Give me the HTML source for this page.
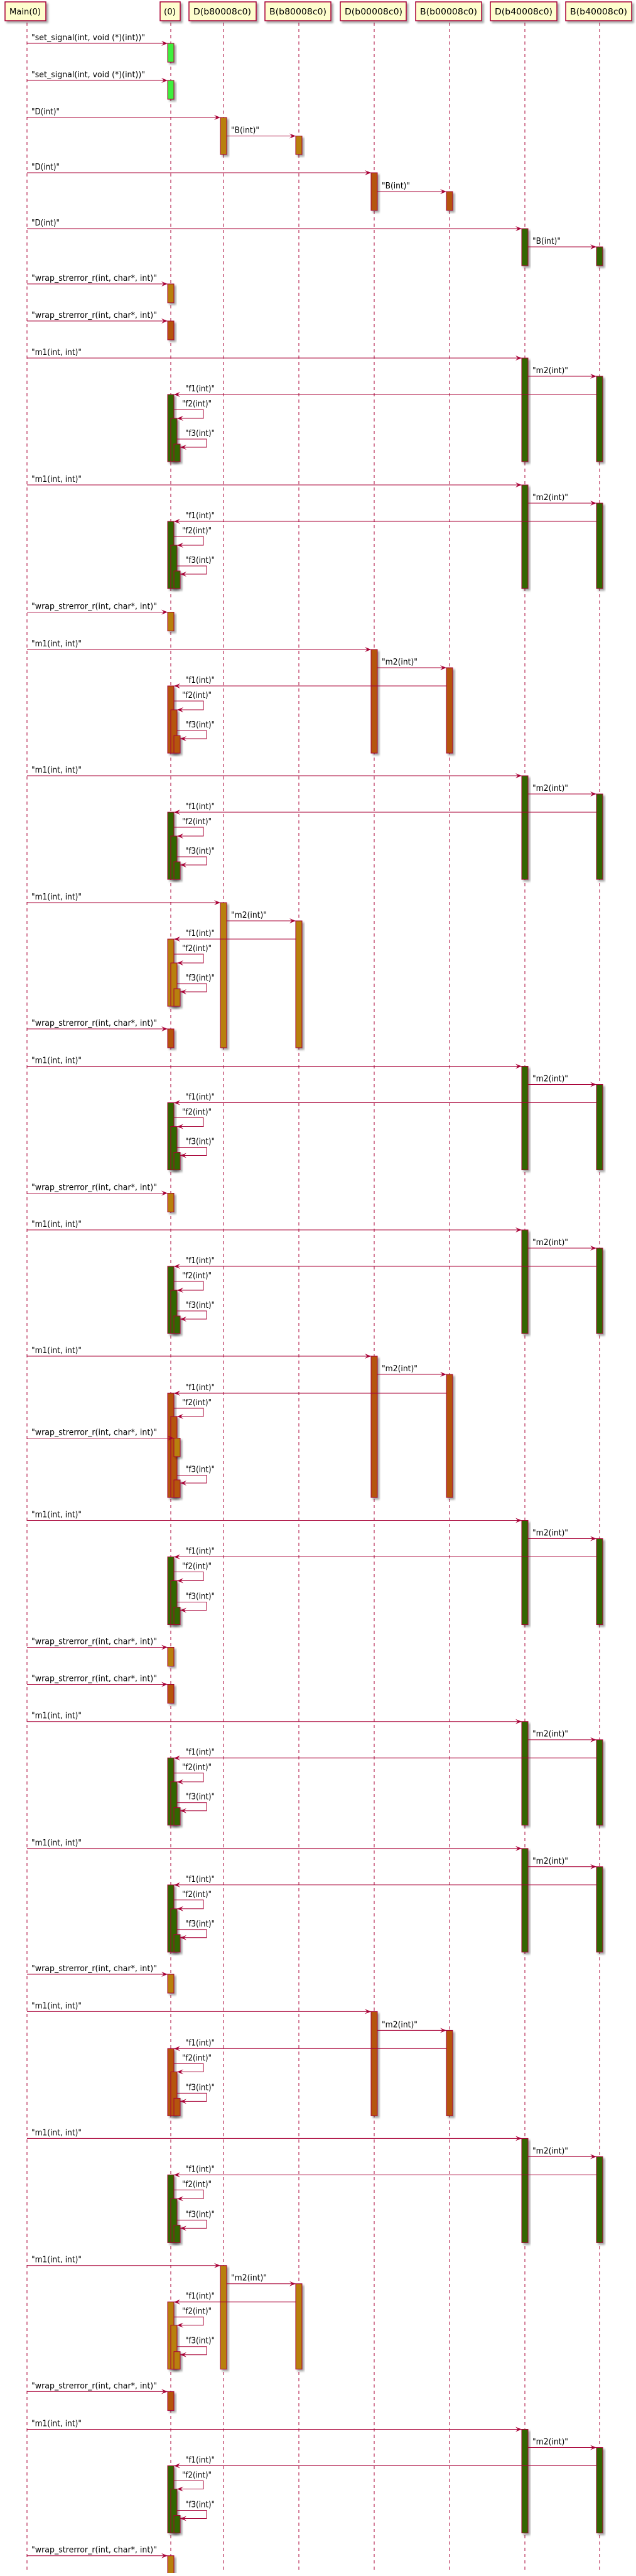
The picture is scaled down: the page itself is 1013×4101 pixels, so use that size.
<!DOCTYPE html>
<html><head><meta charset="utf-8"><style>
html,body{margin:0;padding:0;background:#fff}
svg text{font-family:"DejaVu Sans","Liberation Sans",sans-serif;font-size:13px;fill:#000}
.l{fill:none;stroke:#A80036;stroke-width:1}
.h{fill:#A80036}
.ll{stroke:#A80036;stroke-width:1;stroke-dasharray:5,5}
.box{fill:#FEFECE;stroke:#A80036;stroke-width:1.5;filter:url(#s)}
rect.g,rect.o,rect.r,rect.n{stroke:#A80036;stroke-width:1;filter:url(#s)}
.g{fill:#336600}.o{fill:#B8800A}.r{fill:#B5540B}.n{fill:#3CF03C}
</style></head><body>
<svg width="1013" height="4096" viewBox="0 0 1013 4096" xmlns="http://www.w3.org/2000/svg">
<defs><filter id="s" x="-50%" y="-10%" width="200%" height="130%"><feDropShadow dx="3" dy="3" stdDeviation="1.5" flood-color="#000" flood-opacity="0.35"/></filter></defs>
<line class="ll" x1="43" y1="36" x2="43" y2="4096"/>
<line class="ll" x1="272" y1="36" x2="272" y2="4096"/>
<line class="ll" x1="356" y1="36" x2="356" y2="4096"/>
<line class="ll" x1="476" y1="36" x2="476" y2="4096"/>
<line class="ll" x1="596" y1="36" x2="596" y2="4096"/>
<line class="ll" x1="716" y1="36" x2="716" y2="4096"/>
<line class="ll" x1="836" y1="36" x2="836" y2="4096"/>
<line class="ll" x1="955" y1="36" x2="955" y2="4096"/>
<rect class="box" x="8" y="3" width="65" height="30"/><text x="15" y="23" textLength="50" lengthAdjust="spacingAndGlyphs">Main(0)</text>
<rect class="box" x="255" y="3" width="32" height="30"/><text x="261" y="23" textLength="19" lengthAdjust="spacingAndGlyphs">(0)</text>
<rect class="box" x="301" y="3" width="107" height="30"/><text x="308" y="23" textLength="92" lengthAdjust="spacingAndGlyphs">D(b80008c0)</text>
<rect class="box" x="422" y="3" width="105" height="30"/><text x="429" y="23" textLength="91" lengthAdjust="spacingAndGlyphs">B(b80008c0)</text>
<rect class="box" x="542" y="3" width="105" height="30"/><text x="549" y="23" textLength="92" lengthAdjust="spacingAndGlyphs">D(b00008c0)</text>
<rect class="box" x="662" y="3" width="105" height="30"/><text x="669" y="23" textLength="91" lengthAdjust="spacingAndGlyphs">B(b00008c0)</text>
<rect class="box" x="781" y="3" width="106" height="30"/><text x="788" y="23" textLength="92" lengthAdjust="spacingAndGlyphs">D(b40008c0)</text>
<rect class="box" x="901" y="3" width="105" height="30"/><text x="908" y="23" textLength="91" lengthAdjust="spacingAndGlyphs">B(b40008c0)</text>

<g transform="translate(0,69)"><path class="l" d="M43 0H267"/><polygon class="h" points="267,0 257,-4 261,0 257,4"/><text x="50" y="-5" textLength="181" lengthAdjust="spacingAndGlyphs">"set_signal(int, void (*)(int))"</text><rect class="n" x="267" y="0" width="10" height="30"/></g>
<g transform="translate(0,128)"><path class="l" d="M43 0H267"/><polygon class="h" points="267,0 257,-4 261,0 257,4"/><text x="50" y="-5" textLength="181" lengthAdjust="spacingAndGlyphs">"set_signal(int, void (*)(int))"</text><rect class="n" x="267" y="0" width="10" height="30"/></g>

<g transform="translate(0,187)"><path class="l" d="M43 0H351"/><polygon class="h" points="351,0 341,-4 345,0 341,4"/><text x="50" y="-5" textLength="45" lengthAdjust="spacingAndGlyphs">"D(int)"</text><rect class="o" x="351" y="0" width="10" height="59"/><path class="l" d="M361 29.5H471"/><polygon class="h" points="471,29.5 461,25.5 465,29.5 461,33.5"/><text x="368" y="24.5" textLength="45" lengthAdjust="spacingAndGlyphs">"B(int)"</text><rect class="o" x="471" y="29.5" width="10" height="29.5"/></g>
<g transform="translate(0,275)"><path class="l" d="M43 0H591"/><polygon class="h" points="591,0 581,-4 585,0 581,4"/><text x="50" y="-5" textLength="45" lengthAdjust="spacingAndGlyphs">"D(int)"</text><rect class="r" x="591" y="0" width="10" height="60"/><path class="l" d="M601 30H711"/><polygon class="h" points="711,30 701,26 705,30 701,34"/><text x="608" y="25" textLength="45" lengthAdjust="spacingAndGlyphs">"B(int)"</text><rect class="r" x="711" y="30" width="10" height="30"/></g>
<g transform="translate(0,364)"><path class="l" d="M43 0H831"/><polygon class="h" points="831,0 821,-4 825,0 821,4"/><text x="50" y="-5" textLength="45" lengthAdjust="spacingAndGlyphs">"D(int)"</text><rect class="g" x="831" y="0" width="10" height="59"/><path class="l" d="M841 29H950"/><polygon class="h" points="950,29 940,25 944,29 940,33"/><text x="848" y="24" textLength="45" lengthAdjust="spacingAndGlyphs">"B(int)"</text><rect class="g" x="950" y="29" width="10" height="30"/></g>

<g transform="translate(0,452)"><path class="l" d="M43 0H267"/><polygon class="h" points="267,0 257,-4 261,0 257,4"/><text x="50" y="-5" textLength="200" lengthAdjust="spacingAndGlyphs">"wrap_strerror_r(int, char*, int)"</text><rect class="o" x="267" y="0" width="10" height="30"/></g>
<g transform="translate(0,511)"><path class="l" d="M43 0H267"/><polygon class="h" points="267,0 257,-4 261,0 257,4"/><text x="50" y="-5" textLength="200" lengthAdjust="spacingAndGlyphs">"wrap_strerror_r(int, char*, int)"</text><rect class="r" x="267" y="0" width="10" height="30"/></g>

<g transform="translate(0,570)"><path class="l" d="M43 0H831"/><polygon class="h" points="831,0 821,-4 825,0 821,4"/><text x="50" y="-5" textLength="80" lengthAdjust="spacingAndGlyphs">"m1(int, int)"</text><rect class="g" x="831" y="0" width="10" height="165"/><path class="l" d="M841 29H950"/><polygon class="h" points="950,29 940,25 944,29 940,33"/><text x="848" y="24" textLength="57" lengthAdjust="spacingAndGlyphs">"m2(int)"</text><rect class="g" x="950" y="29" width="10" height="136"/><path class="l" d="M950 58H277"/><polygon class="h" points="277,58 287,54 283,58 287,62"/><text x="295" y="53" textLength="47" lengthAdjust="spacingAndGlyphs">"f1(int)"</text><rect class="g" x="267" y="58" width="10" height="107"/><rect class="g" x="272" y="96" width="10" height="69"/><path class="l" d="M277 82H324V96H282"/><polygon class="h" points="282,96 292,92 288,96 292,100"/><text x="290" y="77" textLength="47" lengthAdjust="spacingAndGlyphs">"f2(int)"</text><rect class="g" x="277" y="137" width="10" height="28"/><path class="l" d="M282 129H329V142H287"/><polygon class="h" points="287,142 297,138 293,142 297,146"/><text x="295" y="124" textLength="47" lengthAdjust="spacingAndGlyphs">"f3(int)"</text></g>

<g transform="translate(0,772)"><path class="l" d="M43 0H831"/><polygon class="h" points="831,0 821,-4 825,0 821,4"/><text x="50" y="-5" textLength="80" lengthAdjust="spacingAndGlyphs">"m1(int, int)"</text><rect class="g" x="831" y="0" width="10" height="165"/><path class="l" d="M841 29H950"/><polygon class="h" points="950,29 940,25 944,29 940,33"/><text x="848" y="24" textLength="57" lengthAdjust="spacingAndGlyphs">"m2(int)"</text><rect class="g" x="950" y="29" width="10" height="136"/><path class="l" d="M950 58H277"/><polygon class="h" points="277,58 287,54 283,58 287,62"/><text x="295" y="53" textLength="47" lengthAdjust="spacingAndGlyphs">"f1(int)"</text><rect class="g" x="267" y="58" width="10" height="107"/><rect class="g" x="272" y="96" width="10" height="69"/><path class="l" d="M277 82H324V96H282"/><polygon class="h" points="282,96 292,92 288,96 292,100"/><text x="290" y="77" textLength="47" lengthAdjust="spacingAndGlyphs">"f2(int)"</text><rect class="g" x="277" y="137" width="10" height="28"/><path class="l" d="M282 129H329V142H287"/><polygon class="h" points="287,142 297,138 293,142 297,146"/><text x="295" y="124" textLength="47" lengthAdjust="spacingAndGlyphs">"f3(int)"</text></g>

<g transform="translate(0,974.5)"><path class="l" d="M43 0H267"/><polygon class="h" points="267,0 257,-4 261,0 257,4"/><text x="50" y="-5" textLength="200" lengthAdjust="spacingAndGlyphs">"wrap_strerror_r(int, char*, int)"</text><rect class="o" x="267" y="0" width="10" height="30"/></g>

<g transform="translate(0,1034)"><path class="l" d="M43 0H591"/><polygon class="h" points="591,0 581,-4 585,0 581,4"/><text x="50" y="-5" textLength="80" lengthAdjust="spacingAndGlyphs">"m1(int, int)"</text><rect class="r" x="591" y="0" width="10" height="165"/><path class="l" d="M601 29H711"/><polygon class="h" points="711,29 701,25 705,29 701,33"/><text x="608" y="24" textLength="57" lengthAdjust="spacingAndGlyphs">"m2(int)"</text><rect class="r" x="711" y="29" width="10" height="136"/><path class="l" d="M711 58H277"/><polygon class="h" points="277,58 287,54 283,58 287,62"/><text x="295" y="53" textLength="47" lengthAdjust="spacingAndGlyphs">"f1(int)"</text><rect class="r" x="267" y="58" width="10" height="107"/><rect class="r" x="272" y="96" width="10" height="69"/><path class="l" d="M277 82H324V96H282"/><polygon class="h" points="282,96 292,92 288,96 292,100"/><text x="290" y="77" textLength="47" lengthAdjust="spacingAndGlyphs">"f2(int)"</text><rect class="r" x="277" y="137" width="10" height="28"/><path class="l" d="M282 129H329V142H287"/><polygon class="h" points="287,142 297,138 293,142 297,146"/><text x="295" y="124" textLength="47" lengthAdjust="spacingAndGlyphs">"f3(int)"</text></g>

<g transform="translate(0,1235)"><path class="l" d="M43 0H831"/><polygon class="h" points="831,0 821,-4 825,0 821,4"/><text x="50" y="-5" textLength="80" lengthAdjust="spacingAndGlyphs">"m1(int, int)"</text><rect class="g" x="831" y="0" width="10" height="165"/><path class="l" d="M841 29H950"/><polygon class="h" points="950,29 940,25 944,29 940,33"/><text x="848" y="24" textLength="57" lengthAdjust="spacingAndGlyphs">"m2(int)"</text><rect class="g" x="950" y="29" width="10" height="136"/><path class="l" d="M950 58H277"/><polygon class="h" points="277,58 287,54 283,58 287,62"/><text x="295" y="53" textLength="47" lengthAdjust="spacingAndGlyphs">"f1(int)"</text><rect class="g" x="267" y="58" width="10" height="107"/><rect class="g" x="272" y="96" width="10" height="69"/><path class="l" d="M277 82H324V96H282"/><polygon class="h" points="282,96 292,92 288,96 292,100"/><text x="290" y="77" textLength="47" lengthAdjust="spacingAndGlyphs">"f2(int)"</text><rect class="g" x="277" y="137" width="10" height="28"/><path class="l" d="M282 129H329V142H287"/><polygon class="h" points="287,142 297,138 293,142 297,146"/><text x="295" y="124" textLength="47" lengthAdjust="spacingAndGlyphs">"f3(int)"</text></g>

<g transform="translate(0,1437)"><path class="l" d="M43 0H351"/><polygon class="h" points="351,0 341,-4 345,0 341,4"/><text x="50" y="-5" textLength="80" lengthAdjust="spacingAndGlyphs">"m1(int, int)"</text><rect class="o" x="351" y="0" width="10" height="231"/><path class="l" d="M361 29H471"/><polygon class="h" points="471,29 461,25 465,29 461,33"/><text x="368" y="24" textLength="57" lengthAdjust="spacingAndGlyphs">"m2(int)"</text><rect class="o" x="471" y="29" width="10" height="202"/><path class="l" d="M471 58H277"/><polygon class="h" points="277,58 287,54 283,58 287,62"/><text x="295" y="53" textLength="47" lengthAdjust="spacingAndGlyphs">"f1(int)"</text><rect class="o" x="267" y="58" width="10" height="107"/><rect class="o" x="272" y="96" width="10" height="69"/><path class="l" d="M277 82H324V96H282"/><polygon class="h" points="282,96 292,92 288,96 292,100"/><text x="290" y="77" textLength="47" lengthAdjust="spacingAndGlyphs">"f2(int)"</text><rect class="o" x="277" y="137" width="10" height="28"/><path class="l" d="M282 129H329V142H287"/><polygon class="h" points="287,142 297,138 293,142 297,146"/><text x="295" y="124" textLength="47" lengthAdjust="spacingAndGlyphs">"f3(int)"</text>
<path class="l" d="M43 201H267"/><polygon class="h" points="267,201 257,197 261,201 257,205"/><text x="50" y="196" textLength="200" lengthAdjust="spacingAndGlyphs">"wrap_strerror_r(int, char*, int)"</text><rect class="r" x="267" y="201" width="10" height="30"/></g>

<g transform="translate(0,1697.5)"><path class="l" d="M43 0H831"/><polygon class="h" points="831,0 821,-4 825,0 821,4"/><text x="50" y="-5" textLength="80" lengthAdjust="spacingAndGlyphs">"m1(int, int)"</text><rect class="g" x="831" y="0" width="10" height="165"/><path class="l" d="M841 29H950"/><polygon class="h" points="950,29 940,25 944,29 940,33"/><text x="848" y="24" textLength="57" lengthAdjust="spacingAndGlyphs">"m2(int)"</text><rect class="g" x="950" y="29" width="10" height="136"/><path class="l" d="M950 58H277"/><polygon class="h" points="277,58 287,54 283,58 287,62"/><text x="295" y="53" textLength="47" lengthAdjust="spacingAndGlyphs">"f1(int)"</text><rect class="g" x="267" y="58" width="10" height="107"/><rect class="g" x="272" y="96" width="10" height="69"/><path class="l" d="M277 82H324V96H282"/><polygon class="h" points="282,96 292,92 288,96 292,100"/><text x="290" y="77" textLength="47" lengthAdjust="spacingAndGlyphs">"f2(int)"</text><rect class="g" x="277" y="137" width="10" height="28"/><path class="l" d="M282 129H329V142H287"/><polygon class="h" points="287,142 297,138 293,142 297,146"/><text x="295" y="124" textLength="47" lengthAdjust="spacingAndGlyphs">"f3(int)"</text></g>

<g transform="translate(0,1899.5)"><path class="l" d="M43 0H267"/><polygon class="h" points="267,0 257,-4 261,0 257,4"/><text x="50" y="-5" textLength="200" lengthAdjust="spacingAndGlyphs">"wrap_strerror_r(int, char*, int)"</text><rect class="o" x="267" y="0" width="10" height="30"/></g>

<g transform="translate(0,1958)"><path class="l" d="M43 0H831"/><polygon class="h" points="831,0 821,-4 825,0 821,4"/><text x="50" y="-5" textLength="80" lengthAdjust="spacingAndGlyphs">"m1(int, int)"</text><rect class="g" x="831" y="0" width="10" height="165"/><path class="l" d="M841 29H950"/><polygon class="h" points="950,29 940,25 944,29 940,33"/><text x="848" y="24" textLength="57" lengthAdjust="spacingAndGlyphs">"m2(int)"</text><rect class="g" x="950" y="29" width="10" height="136"/><path class="l" d="M950 58H277"/><polygon class="h" points="277,58 287,54 283,58 287,62"/><text x="295" y="53" textLength="47" lengthAdjust="spacingAndGlyphs">"f1(int)"</text><rect class="g" x="267" y="58" width="10" height="107"/><rect class="g" x="272" y="96" width="10" height="69"/><path class="l" d="M277 82H324V96H282"/><polygon class="h" points="282,96 292,92 288,96 292,100"/><text x="290" y="77" textLength="47" lengthAdjust="spacingAndGlyphs">"f2(int)"</text><rect class="g" x="277" y="137" width="10" height="28"/><path class="l" d="M282 129H329V142H287"/><polygon class="h" points="287,142 297,138 293,142 297,146"/><text x="295" y="124" textLength="47" lengthAdjust="spacingAndGlyphs">"f3(int)"</text></g>

<g transform="translate(0,2159)"><path class="l" d="M43 0H591"/><polygon class="h" points="591,0 581,-4 585,0 581,4"/><text x="50" y="-5" textLength="80" lengthAdjust="spacingAndGlyphs">"m1(int, int)"</text><rect class="r" x="591" y="0" width="10" height="225"/><path class="l" d="M601 29H711"/><polygon class="h" points="711,29 701,25 705,29 701,33"/><text x="608" y="24" textLength="57" lengthAdjust="spacingAndGlyphs">"m2(int)"</text><rect class="r" x="711" y="29" width="10" height="196"/><path class="l" d="M711 59H277"/><polygon class="h" points="277,59 287,55 283,59 287,63"/><text x="295" y="54" textLength="47" lengthAdjust="spacingAndGlyphs">"f1(int)"</text><rect class="r" x="267" y="59" width="10" height="166"/><rect class="r" x="272" y="96" width="10" height="129"/><path class="l" d="M277 83H324V96H282"/><polygon class="h" points="282,96 292,92 288,96 292,100"/><text x="290" y="78" textLength="47" lengthAdjust="spacingAndGlyphs">"f2(int)"</text>
<path class="l" d="M43 130.5H277"/><polygon class="h" points="277,130.5 267,126.5 271,130.5 267,134.5"/><text x="50" y="125.5" textLength="200" lengthAdjust="spacingAndGlyphs">"wrap_strerror_r(int, char*, int)"</text><rect class="o" x="277" y="130.5" width="10" height="29.5"/>
<rect class="r" x="277" y="197" width="10" height="28"/><path class="l" d="M282 189.5H329V202H287"/><polygon class="h" points="287,202 297,198 293,202 297,206"/><text x="295" y="184.5" textLength="47" lengthAdjust="spacingAndGlyphs">"f3(int)"</text></g>

<g transform="translate(0,2420.5)"><path class="l" d="M43 0H831"/><polygon class="h" points="831,0 821,-4 825,0 821,4"/><text x="50" y="-5" textLength="80" lengthAdjust="spacingAndGlyphs">"m1(int, int)"</text><rect class="g" x="831" y="0" width="10" height="166"/><path class="l" d="M841 29H950"/><polygon class="h" points="950,29 940,25 944,29 940,33"/><text x="848" y="24" textLength="57" lengthAdjust="spacingAndGlyphs">"m2(int)"</text><rect class="g" x="950" y="29" width="10" height="137"/><path class="l" d="M950 58H277"/><polygon class="h" points="277,58 287,54 283,58 287,62"/><text x="295" y="53" textLength="47" lengthAdjust="spacingAndGlyphs">"f1(int)"</text><rect class="g" x="267" y="58" width="10" height="108"/><rect class="g" x="272" y="96" width="10" height="70"/><path class="l" d="M277 82H324V96H282"/><polygon class="h" points="282,96 292,92 288,96 292,100"/><text x="290" y="77" textLength="47" lengthAdjust="spacingAndGlyphs">"f2(int)"</text><rect class="g" x="277" y="138" width="10" height="28"/><path class="l" d="M282 130H329V143H287"/><polygon class="h" points="287,143 297,139 293,143 297,147"/><text x="295" y="125" textLength="47" lengthAdjust="spacingAndGlyphs">"f3(int)"</text></g>

<g transform="translate(0,2622.5)"><path class="l" d="M43 0H267"/><polygon class="h" points="267,0 257,-4 261,0 257,4"/><text x="50" y="-5" textLength="200" lengthAdjust="spacingAndGlyphs">"wrap_strerror_r(int, char*, int)"</text><rect class="o" x="267" y="0" width="10" height="30"/></g>
<g transform="translate(0,2681.5)"><path class="l" d="M43 0H267"/><polygon class="h" points="267,0 257,-4 261,0 257,4"/><text x="50" y="-5" textLength="200" lengthAdjust="spacingAndGlyphs">"wrap_strerror_r(int, char*, int)"</text><rect class="r" x="267" y="0" width="10" height="30"/></g>

<g transform="translate(0,2740.7)"><path class="l" d="M43 0H831"/><polygon class="h" points="831,0 821,-4 825,0 821,4"/><text x="50" y="-5" textLength="80" lengthAdjust="spacingAndGlyphs">"m1(int, int)"</text><rect class="g" x="831" y="0" width="10" height="165"/><path class="l" d="M841 29H950"/><polygon class="h" points="950,29 940,25 944,29 940,33"/><text x="848" y="24" textLength="57" lengthAdjust="spacingAndGlyphs">"m2(int)"</text><rect class="g" x="950" y="29" width="10" height="136"/><path class="l" d="M950 58H277"/><polygon class="h" points="277,58 287,54 283,58 287,62"/><text x="295" y="53" textLength="47" lengthAdjust="spacingAndGlyphs">"f1(int)"</text><rect class="g" x="267" y="58" width="10" height="107"/><rect class="g" x="272" y="96" width="10" height="69"/><path class="l" d="M277 82H324V96H282"/><polygon class="h" points="282,96 292,92 288,96 292,100"/><text x="290" y="77" textLength="47" lengthAdjust="spacingAndGlyphs">"f2(int)"</text><rect class="g" x="277" y="137" width="10" height="28"/><path class="l" d="M282 129H329V142H287"/><polygon class="h" points="287,142 297,138 293,142 297,146"/><text x="295" y="124" textLength="47" lengthAdjust="spacingAndGlyphs">"f3(int)"</text></g>

<g transform="translate(0,2942.8)"><path class="l" d="M43 0H831"/><polygon class="h" points="831,0 821,-4 825,0 821,4"/><text x="50" y="-5" textLength="80" lengthAdjust="spacingAndGlyphs">"m1(int, int)"</text><rect class="g" x="831" y="0" width="10" height="165"/><path class="l" d="M841 29H950"/><polygon class="h" points="950,29 940,25 944,29 940,33"/><text x="848" y="24" textLength="57" lengthAdjust="spacingAndGlyphs">"m2(int)"</text><rect class="g" x="950" y="29" width="10" height="136"/><path class="l" d="M950 58H277"/><polygon class="h" points="277,58 287,54 283,58 287,62"/><text x="295" y="53" textLength="47" lengthAdjust="spacingAndGlyphs">"f1(int)"</text><rect class="g" x="267" y="58" width="10" height="107"/><rect class="g" x="272" y="96" width="10" height="69"/><path class="l" d="M277 82H324V96H282"/><polygon class="h" points="282,96 292,92 288,96 292,100"/><text x="290" y="77" textLength="47" lengthAdjust="spacingAndGlyphs">"f2(int)"</text><rect class="g" x="277" y="137" width="10" height="28"/><path class="l" d="M282 129H329V142H287"/><polygon class="h" points="287,142 297,138 293,142 297,146"/><text x="295" y="124" textLength="47" lengthAdjust="spacingAndGlyphs">"f3(int)"</text></g>

<g transform="translate(0,3143)"><path class="l" d="M43 0H267"/><polygon class="h" points="267,0 257,-4 261,0 257,4"/><text x="50" y="-5" textLength="200" lengthAdjust="spacingAndGlyphs">"wrap_strerror_r(int, char*, int)"</text><rect class="o" x="267" y="0" width="10" height="30"/></g>

<g transform="translate(0,3202.4)"><path class="l" d="M43 0H591"/><polygon class="h" points="591,0 581,-4 585,0 581,4"/><text x="50" y="-5" textLength="80" lengthAdjust="spacingAndGlyphs">"m1(int, int)"</text><rect class="r" x="591" y="0" width="10" height="166"/><path class="l" d="M601 30H711"/><polygon class="h" points="711,30 701,26 705,30 701,34"/><text x="608" y="25" textLength="57" lengthAdjust="spacingAndGlyphs">"m2(int)"</text><rect class="r" x="711" y="30" width="10" height="136"/><path class="l" d="M711 59H277"/><polygon class="h" points="277,59 287,55 283,59 287,63"/><text x="295" y="54" textLength="47" lengthAdjust="spacingAndGlyphs">"f1(int)"</text><rect class="r" x="267" y="59" width="10" height="107"/><rect class="r" x="272" y="96" width="10" height="70"/><path class="l" d="M277 83H324V96H282"/><polygon class="h" points="282,96 292,92 288,96 292,100"/><text x="290" y="78" textLength="47" lengthAdjust="spacingAndGlyphs">"f2(int)"</text><rect class="r" x="277" y="138" width="10" height="28"/><path class="l" d="M282 130H329V143H287"/><polygon class="h" points="287,143 297,139 293,143 297,147"/><text x="295" y="125" textLength="47" lengthAdjust="spacingAndGlyphs">"f3(int)"</text></g>

<g transform="translate(0,3404.4)"><path class="l" d="M43 0H831"/><polygon class="h" points="831,0 821,-4 825,0 821,4"/><text x="50" y="-5" textLength="80" lengthAdjust="spacingAndGlyphs">"m1(int, int)"</text><rect class="g" x="831" y="0" width="10" height="166"/><path class="l" d="M841 29H950"/><polygon class="h" points="950,29 940,25 944,29 940,33"/><text x="848" y="24" textLength="57" lengthAdjust="spacingAndGlyphs">"m2(int)"</text><rect class="g" x="950" y="29" width="10" height="137"/><path class="l" d="M950 58H277"/><polygon class="h" points="277,58 287,54 283,58 287,62"/><text x="295" y="53" textLength="47" lengthAdjust="spacingAndGlyphs">"f1(int)"</text><rect class="g" x="267" y="58" width="10" height="108"/><rect class="g" x="272" y="96" width="10" height="70"/><path class="l" d="M277 82H324V96H282"/><polygon class="h" points="282,96 292,92 288,96 292,100"/><text x="290" y="77" textLength="47" lengthAdjust="spacingAndGlyphs">"f2(int)"</text><rect class="g" x="277" y="138" width="10" height="28"/><path class="l" d="M282 130H329V143H287"/><polygon class="h" points="287,143 297,139 293,143 297,147"/><text x="295" y="125" textLength="47" lengthAdjust="spacingAndGlyphs">"f3(int)"</text></g>

<g transform="translate(0,3606.7)"><path class="l" d="M43 0H351"/><polygon class="h" points="351,0 341,-4 345,0 341,4"/><text x="50" y="-5" textLength="80" lengthAdjust="spacingAndGlyphs">"m1(int, int)"</text><rect class="o" x="351" y="0" width="10" height="165"/><path class="l" d="M361 29H471"/><polygon class="h" points="471,29 461,25 465,29 461,33"/><text x="368" y="24" textLength="57" lengthAdjust="spacingAndGlyphs">"m2(int)"</text><rect class="o" x="471" y="29" width="10" height="136"/><path class="l" d="M471 58H277"/><polygon class="h" points="277,58 287,54 283,58 287,62"/><text x="295" y="53" textLength="47" lengthAdjust="spacingAndGlyphs">"f1(int)"</text><rect class="o" x="267" y="58" width="10" height="107"/><rect class="o" x="272" y="95" width="10" height="70"/><path class="l" d="M277 82H324V95H282"/><polygon class="h" points="282,95 292,91 288,95 292,99"/><text x="290" y="77" textLength="47" lengthAdjust="spacingAndGlyphs">"f2(int)"</text><rect class="o" x="277" y="137" width="10" height="28"/><path class="l" d="M282 129H329V142H287"/><polygon class="h" points="287,142 297,138 293,142 297,146"/><text x="295" y="124" textLength="47" lengthAdjust="spacingAndGlyphs">"f3(int)"</text></g>

<g transform="translate(0,3807.4)"><path class="l" d="M43 0H267"/><polygon class="h" points="267,0 257,-4 261,0 257,4"/><text x="50" y="-5" textLength="200" lengthAdjust="spacingAndGlyphs">"wrap_strerror_r(int, char*, int)"</text><rect class="r" x="267" y="0" width="10" height="30"/></g>

<g transform="translate(0,3867.5)"><path class="l" d="M43 0H831"/><polygon class="h" points="831,0 821,-4 825,0 821,4"/><text x="50" y="-5" textLength="80" lengthAdjust="spacingAndGlyphs">"m1(int, int)"</text><rect class="g" x="831" y="0" width="10" height="165"/><path class="l" d="M841 29H950"/><polygon class="h" points="950,29 940,25 944,29 940,33"/><text x="848" y="24" textLength="57" lengthAdjust="spacingAndGlyphs">"m2(int)"</text><rect class="g" x="950" y="29" width="10" height="136"/><path class="l" d="M950 58H277"/><polygon class="h" points="277,58 287,54 283,58 287,62"/><text x="295" y="53" textLength="47" lengthAdjust="spacingAndGlyphs">"f1(int)"</text><rect class="g" x="267" y="58" width="10" height="107"/><rect class="g" x="272" y="95" width="10" height="70"/><path class="l" d="M277 82H324V95H282"/><polygon class="h" points="282,95 292,91 288,95 292,99"/><text x="290" y="77" textLength="47" lengthAdjust="spacingAndGlyphs">"f2(int)"</text><rect class="g" x="277" y="137" width="10" height="28"/><path class="l" d="M282 129H329V142H287"/><polygon class="h" points="287,142 297,138 293,142 297,146"/><text x="295" y="124" textLength="47" lengthAdjust="spacingAndGlyphs">"f3(int)"</text></g>

<g transform="translate(0,4068.7)"><path class="l" d="M43 0H267"/><polygon class="h" points="267,0 257,-4 261,0 257,4"/><text x="50" y="-5" textLength="200" lengthAdjust="spacingAndGlyphs">"wrap_strerror_r(int, char*, int)"</text><rect class="o" x="267" y="0" width="10" height="40"/></g>
</svg>
</body></html>
